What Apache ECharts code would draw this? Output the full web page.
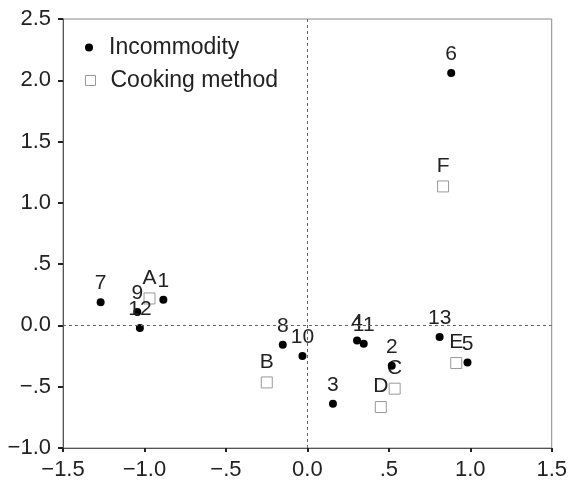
<!DOCTYPE html>
<html>
<head>
<meta charset="utf-8">
<script src="https://cdn.jsdelivr.net/npm/echarts@6/dist/echarts.min.js"></script>
<style>html,body{margin:0;padding:0;background:#fff}#c{width:570px;height:484px}</style>
</head>
<body>
<div id="c"></div>
<script>
const incomNames = ['1','2','3','4','5','6','7','8','9','10','11','12','13'];
const incomX = [-0.884, 0.518, 0.157, 0.305, 0.983, 0.883, -1.269, -0.151, -1.044, -0.030, 0.346, -1.028, 0.812];
const incomY = [0.21, -0.329, -0.639, -0.122, -0.302, 2.059, 0.19, -0.157, 0.11, -0.25, -0.149, -0.02, -0.095];
const cookNames = ['A','B','C','D','E','F'];
const cookX = [-0.969, -0.249, 0.536, 0.451, 0.914, 0.833];
const cookY = [0.22, -0.465, -0.516, -0.666, -0.307, 1.134];
const xTickValues = [-1.5, -1.0, -0.5, 0.0, 0.5, 1.0, 1.5];
const xTickLabels = ['\u22121.5', '\u22121.0', '\u2212.5', '0.0', '.5', '1.0', '1.5'];
const yTickValues = [-1.0, -0.5, 0.0, 0.5, 1.0, 1.5, 2.0, 2.5];
const yTickLabels = ['\u22121.0', '\u2212.5', '0.0', '.5', '1.0', '1.5', '2.0', '2.5'];

function lookup(vals, labels) {
  return function (v) {
    for (let i = 0; i < vals.length; i++) if (Math.abs(vals[i] - v) < 1e-6) return labels[i];
    return '';
  };
}
const FONT = 'Liberation Sans, Arial, sans-serif';
const incomData = incomNames.map((n, i) => ({ name: n, value: [incomX[i], incomY[i]] }));
const cookData = cookNames.map((n, i) => ({ name: n, value: [cookX[i], cookY[i]] }));

const chart = echarts.init(document.getElementById('c'), null, { renderer: 'canvas' });
chart.setOption({
  animation: false,
  backgroundColor: '#fff',
  grid: { left: 63, right: 14, top: 19, bottom: 36, show: true, borderColor: '#8a8a8a', borderWidth: 1 },
  xAxis: {
    type: 'value', min: -1.5, max: 1.5, interval: 0.5,
    axisLine: { show: true, onZero: false, lineStyle: { color: '#555', width: 1 } },
    axisTick: { show: true, length: 4, lineStyle: { color: '#222', width: 2 } },
    splitLine: { show: false },
    axisLabel: { margin: 11, color: '#222', fontSize: 22, fontFamily: FONT, formatter: lookup(xTickValues, xTickLabels) }
  },
  yAxis: {
    type: 'value', min: -1.0, max: 2.5, interval: 0.5,
    axisLine: { show: true, onZero: false, lineStyle: { color: '#555', width: 1 } },
    axisTick: { show: true, length: 5, lineStyle: { color: '#222', width: 2 } },
    splitLine: { show: false },
    axisLabel: { margin: 12, color: '#222', fontSize: 22, fontFamily: FONT, formatter: lookup(yTickValues, yTickLabels) }
  },
  legend: [
    {
      data: [{ name: 'Incommodity', icon: 'circle', itemStyle: { color: '#000', borderWidth: 0 } }],
      left: 80, top: 31, itemWidth: 30, itemHeight: 8, symbolKeepAspect: true,
      textStyle: { color: '#222', fontSize: 23, fontFamily: FONT }
    },
    {
      data: [{ name: 'Cooking method', icon: 'path://M0,0H10V10H0Z', itemStyle: { color: '#fff', borderColor: '#999', borderWidth: 1 } }],
      left: 80, top: 64, itemWidth: 30, itemHeight: 10, symbolKeepAspect: true,
      textStyle: { color: '#222', fontSize: 23, fontFamily: FONT }
    }
  ],
  series: [
    {
      name: 'Cooking method', type: 'scatter', symbol: 'rect', symbolSize: 11,
      itemStyle: { color: '#fff', borderColor: '#999', borderWidth: 1, opacity: 1 },
      label: { show: true, position: 'top', distance: 4, formatter: '{b}', color: '#222', fontSize: 21, fontFamily: FONT },
      data: cookData, z: 2,
      markLine: {
        silent: true, symbol: 'none', animation: false,
        label: { show: false },
        lineStyle: { color: '#666', type: [3, 3], width: 1 },
        data: [{ xAxis: 0 }, { yAxis: 0 }]
      }
    },
    {
      name: 'Incommodity', type: 'scatter', symbol: 'circle', symbolSize: 8,
      itemStyle: { color: '#000', opacity: 1 },
      label: { show: true, position: 'top', distance: 4, formatter: '{b}', color: '#222', fontSize: 21, fontFamily: FONT },
      data: incomData, z: 3
    }
  ]
});
</script>
</body>
</html>
